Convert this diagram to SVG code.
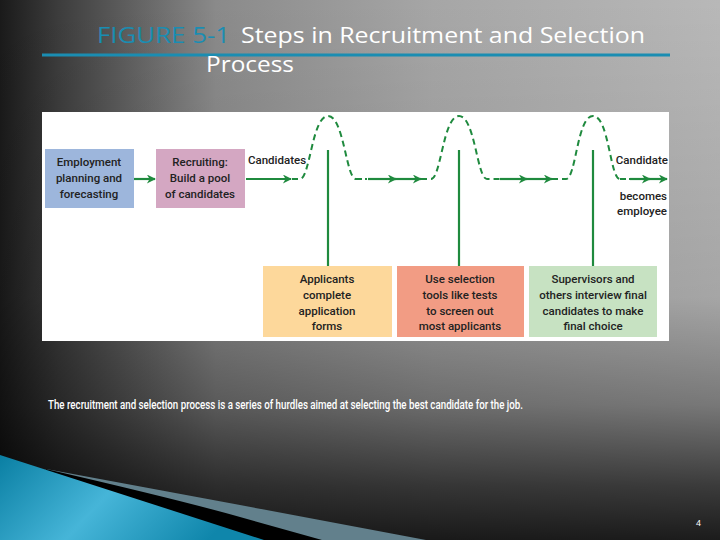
<svg xmlns="http://www.w3.org/2000/svg" width="720" height="540" viewBox="0 0 720 540">
<defs>
<linearGradient id="bgH" x1="0" y1="0" x2="1" y2="0">
<stop offset="0" stop-color="#1a1a1a"/>
<stop offset="0.08" stop-color="#3c3c3c"/>
<stop offset="0.3" stop-color="#8a8a8a"/>
<stop offset="0.6" stop-color="#a6a6a6"/>
<stop offset="1" stop-color="#b8b8b8"/>
</linearGradient>
<linearGradient id="bgV" x1="0" y1="0" x2="0" y2="1">
<stop offset="0" stop-color="#000" stop-opacity="0"/>
<stop offset="0.55" stop-color="#000" stop-opacity="0.1"/>
<stop offset="0.75" stop-color="#000" stop-opacity="0.35"/>
<stop offset="0.9" stop-color="#000" stop-opacity="0.68"/>
<stop offset="1" stop-color="#000" stop-opacity="0.85"/>
</linearGradient>
<linearGradient id="teal" x1="0" y1="0" x2="1" y2="0.3">
<stop offset="0" stop-color="#0a7fa3"/>
<stop offset="0.5" stop-color="#46b5d8"/>
<stop offset="1" stop-color="#0f86ab"/>
</linearGradient>
<marker id="ahl" viewBox="0 0 10 10" refX="9" refY="5" markerWidth="14" markerHeight="9" orient="auto" markerUnits="userSpaceOnUse">
<path d="M0,0 L10,5 L0,10 L3,5 Z" fill="#1f8a3e"/>
</marker>
</defs>
<style>
.title{font-family:"Open Sans","Noto Sans",sans-serif;font-size:22px;fill:#fff}
.fig{font-family:"Open Sans","Noto Sans",sans-serif;font-size:22px;fill:#1a8db2}
.bx{font-family:Roboto,"Liberation Sans",sans-serif;font-weight:500;font-size:11.5px;fill:#222;text-anchor:middle}
.lb{font-family:Roboto,"Liberation Sans",sans-serif;font-weight:500;font-size:11.5px;fill:#222}
.solid{stroke:#1f8a3e;stroke-width:2.2;fill:none}
.dash{stroke:#1f8a3e;stroke-width:2;fill:none;stroke-dasharray:6,4}
.dd{stroke:#1f8a3e;stroke-width:2;fill:none;stroke-dasharray:6,3,2,3}
.cap{font-family:Roboto,"Liberation Sans",sans-serif;font-weight:500;font-size:13.5px;fill:#fff}
</style>
<rect width="720" height="540" fill="url(#bgH)"/>
<rect width="720" height="540" fill="url(#bgV)"/>
<g id="decoration">
<path d="M46,469 L240,505 L426,540 L0,540 Z" fill="#62808c"/>
<path d="M46,469 Q180,500 240,517 L322,540 L0,540 Z" fill="#000"/>
<path d="M0,455 L264,540 L0,540 Z" fill="url(#teal)"/>
</g>
<g id="title">
<text x="97" y="43" class="fig" textLength="133" lengthAdjust="spacingAndGlyphs">FIGURE 5-1</text>
<text x="241" y="43" class="title" textLength="404" lengthAdjust="spacingAndGlyphs">Steps in Recruitment and Selection</text>
<line x1="42" y1="55" x2="670" y2="55" stroke="#1a8db2" stroke-width="3"/>
<text x="206" y="72" class="title" textLength="88" lengthAdjust="spacingAndGlyphs">Process</text>
</g>
<rect id="panel" x="42" y="112" width="627" height="229" fill="#fff"/>
<g id="connectors">
<line x1="134" y1="179" x2="155" y2="179" class="solid" marker-end="url(#ahl)"/>
<line x1="246" y1="179" x2="291" y2="179" class="solid" marker-end="url(#ahl)"/>
<path d="M292,179 L300,179 C310,179 312,116 328,116 C344,116 346,179 356,179" class="dash"/>
<path d="M356,179 L368,179" class="dd"/>
<line x1="368" y1="179" x2="396" y2="179" class="solid" marker-end="url(#ahl)"/>
<line x1="394" y1="179" x2="421" y2="179" class="solid" marker-end="url(#ahl)"/>
<path d="M421,179 L431,179 C441,179 443,116 459,116 C475,116 477,179 487,179 L500,179" class="dash"/>
<line x1="500" y1="179" x2="527" y2="179" class="solid" marker-end="url(#ahl)"/>
<line x1="525" y1="179" x2="552" y2="179" class="solid" marker-end="url(#ahl)"/>
<path d="M552,179 L566,179 C576,179 577,116 593,116 C609,116 610,179 620,179" class="dash"/>
<path d="M620,179 L630,179" class="dd"/>
<line x1="630" y1="179" x2="650" y2="179" class="solid" marker-end="url(#ahl)"/>
<line x1="648" y1="179" x2="667" y2="179" class="solid" marker-end="url(#ahl)"/>
<line x1="328" y1="150" x2="328" y2="266" class="solid"/>
<line x1="459" y1="150" x2="459" y2="266" class="solid"/>
<line x1="593" y1="150" x2="593" y2="266" class="solid"/>
</g>
<g id="planning">
<rect x="45" y="149" width="89" height="59" fill="#9db6dc"/>
<text class="bx" x="89" y="166">Employment</text>
<text class="bx" x="89" y="182">planning and</text>
<text class="bx" x="89" y="198">forecasting</text>
</g>
<g id="recruiting">
<rect x="156" y="149" width="89" height="59" fill="#d4a7c2"/>
<text class="bx" x="200" y="166">Recruiting:</text>
<text class="bx" x="200" y="182">Build a pool</text>
<text class="bx" x="200" y="198">of candidates</text>
</g>
<g id="labels">
<text class="lb" x="248" y="164">Candidates</text>
<text class="lb" x="668" y="164" text-anchor="end">Candidate</text>
<text class="lb" x="667" y="200" text-anchor="end">becomes</text>
<text class="lb" x="667" y="215" text-anchor="end">employee</text>
</g>
<g id="applicants">
<rect x="263" y="266" width="129" height="71" fill="#fdd89b"/>
<text class="bx" x="327" y="283">Applicants</text>
<text class="bx" x="327" y="299">complete</text>
<text class="bx" x="327" y="315">application</text>
<text class="bx" x="327" y="330">forms</text>
</g>
<g id="selection">
<rect x="397" y="266" width="127" height="71" fill="#f29c84"/>
<text class="bx" x="460" y="283">Use selection</text>
<text class="bx" x="460" y="299">tools like tests</text>
<text class="bx" x="460" y="315">to screen out</text>
<text class="bx" x="460" y="330">most applicants</text>
</g>
<g id="interview">
<rect x="529" y="266" width="128" height="71" fill="#c7e2c2"/>
<text class="bx" x="593" y="283">Supervisors and</text>
<text class="bx" x="593" y="299">others interview final</text>
<text class="bx" x="593" y="315">candidates to make</text>
<text class="bx" x="593" y="330">final choice</text>
</g>
<text class="cap" x="48" y="409" textLength="475" lengthAdjust="spacingAndGlyphs">The recruitment and selection process is a series of hurdles aimed at selecting the best candidate for the job.</text>
<text x="696" y="526" font-family="Liberation Sans,Arial,sans-serif" font-size="9" fill="#fff">4</text>
</svg>
